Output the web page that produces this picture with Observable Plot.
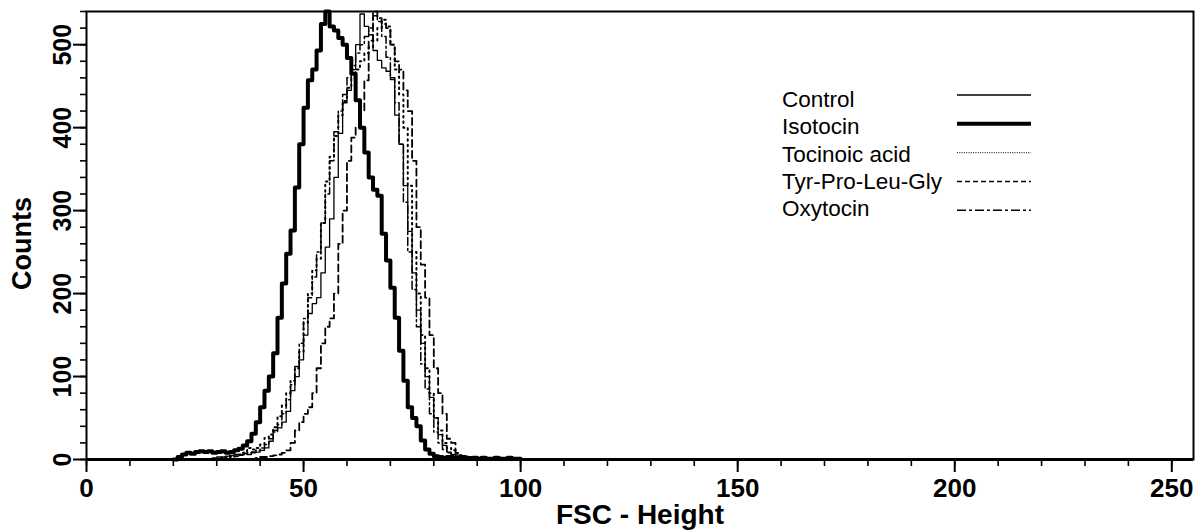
<!DOCTYPE html>
<html><head><meta charset="utf-8">
<script src="https://cdn.jsdelivr.net/npm/d3@7"></script>
<script src="https://cdn.jsdelivr.net/npm/@observablehq/plot@0.6"></script>
<style>
html,body{margin:0;padding:0;background:#fff;}
#chart{position:relative;width:1201px;height:531px;overflow:hidden;}
#chart svg{display:block;}
#legend{position:absolute;left:0;top:0;pointer-events:none;}
</style></head><body><div id="chart"></div>
<script>
// ---- data (counts per FSC channel) ----
const seriesNames = ["Control", "Isotocin", "Tocinoic acid", "Tyr-Pro-Leu-Gly", "Oxytocin"];

const controlStart = 28;
const controlCounts = [0,2,3,3,4,5,6,5,7,6,8,9,11,14,22,35,38,45,58,83,100,120,150,176,188,195,225,256,290,340,393,430,445,470,500,537,522,512,493,481,472,468,458,415,380,330,275,225,180,140,100,75,50,30,17,9,6,4,3,3,2,2,1,2,1,1,1,0];

const isotocinStart = 20;
const isotocinCounts = [0,3,6,8,7,9,10,9,10,8,9,10,8,9,11,13,17,22,31,45,63,83,100,128,171,212,248,276,328,380,424,457,470,493,525,540,522,517,508,500,484,465,433,400,370,340,325,318,272,240,207,171,131,95,63,50,40,23,12,7,4,3,2,3,2,2,3,2,1,2,1,2,1,1,2,1,1,2,1,1,0];

const tocinoicStart = 30;
const tocinoicCounts = [0,2,3,4,4,6,8,14,12,14,18,26,30,39,52,65,80,95,110,130,165,200,228,242,285,335,365,390,415,432,448,460,470,480,490,497,505,520,530,522,500,470,440,400,330,250,200,150,110,80,50,35,20,14,11,7,5,4,3,2,2,1,1,0];

const tyrStart = 38;
const tyrCounts = [0,2,3,3,4,5,6,8,11,20,35,45,55,63,80,110,140,160,170,200,260,300,360,388,400,420,457,505,540,532,525,520,500,480,470,445,420,360,280,235,195,150,110,80,55,25,20,8,4,3,2,2,1,0];

const oxytocinStart = 32;
const oxytocinCounts = [0,3,4,5,6,8,9,11,14,18,25,33,42,55,72,90,112,140,170,195,220,250,285,320,360,395,420,440,460,475,490,500,510,520,535,528,510,485,460,430,380,310,250,205,160,115,85,55,33,20,12,8,5,4,3,2,2,1,1,0];

const xTicks = [0, 50, 100, 150, 200, 250];
const yTicks = [0, 100, 200, 300, 400, 500];
const xLabel = "FSC - Height";
const yLabel = "Counts";

// ---- styles ----
const lineStyles = [
  {strokeWidth: 1.3, strokeDasharray: null},
  {strokeWidth: 4, strokeDasharray: null},
  {strokeWidth: 2, strokeDasharray: "1.5,4"},
  {strokeWidth: 1.8, strokeDasharray: "7,4"},
  {strokeWidth: 1.5, strokeDasharray: "8,3,2,3"}
];
const legendStyles = [
  {strokeWidth: 1.4, strokeDasharray: null, stroke: "#000"},
  {strokeWidth: 4, strokeDasharray: null, stroke: "#000"},
  {strokeWidth: 1.2, strokeDasharray: "1,1.3", stroke: "#333"},
  {strokeWidth: 1.5, strokeDasharray: "5,3", stroke: "#000"},
  {strokeWidth: 1.5, strokeDasharray: "9,3,3,3", stroke: "#000"}
];

const seriesData = [
  [controlStart, controlCounts],
  [isotocinStart, isotocinCounts],
  [tocinoicStart, tocinoicCounts],
  [tyrStart, tyrCounts],
  [oxytocinStart, oxytocinCounts]
];

const table = [];
seriesData.forEach(([start, counts], k) => {
  counts.forEach((c, i) => table.push({series: seriesNames[k], channel: start + i, count: c}));
});

const font = "'Liberation Sans', Arial, Helvetica, sans-serif";

const lineMarks = seriesNames.map((name, k) =>
  Plot.line(table.filter(d => d.series === name), {
    x: "channel", y: "count", curve: "step-after",
    stroke: "#000", strokeWidth: lineStyles[k].strokeWidth,
    strokeDasharray: lineStyles[k].strokeDasharray
  })
);

const plot = Plot.plot({
  width: 1201, height: 531,
  marginLeft: 86, marginRight: 8, marginTop: 11, marginBottom: 72,
  style: {fontFamily: font, background: "#fff", color: "#000"},
  x: {domain: [0, 255]},
  y: {domain: [0, 540]},
  marks: [
    ...lineMarks,
    Plot.frame({stroke: "#000", strokeWidth: 2}),
    Plot.ruleY([0], {stroke: "#000", strokeWidth: 3}),
    Plot.axisX({ticks: d3.range(0, 256, 10), tickSize: 7, text: null, label: null, strokeWidth: 1.6}),
    Plot.axisX({ticks: xTicks, tickSize: 13, tickPadding: 6, fontSize: 26, fontWeight: "bold", label: null, strokeWidth: 2}),
    Plot.axisY({ticks: d3.range(0, 541, 20), tickSize: 6, text: null, label: null, strokeWidth: 1.6}),
    Plot.axisY({ticks: yTicks, tickSize: 13, tickPadding: 3, tickRotate: -90, textAnchor: "middle", lineAnchor: "bottom", fontSize: 25, fontWeight: "bold", label: null, strokeWidth: 2}),
    Plot.text([xLabel], {frameAnchor: "bottom", dy: 56, lineAnchor: "middle", textAnchor: "middle", fontSize: 28, fontWeight: "bold"}),
    Plot.text([yLabel], {frameAnchor: "left", dx: -64, dy: 8, rotate: -90, textAnchor: "middle", lineAnchor: "middle", fontSize: 27, fontWeight: "bold"})
  ]
});
document.getElementById("chart").appendChild(plot);

// ---- legend (overlay) ----
const legend = d3.select("#chart").append("svg").attr("id", "legend")
  .attr("width", 1201).attr("height", 531);
seriesNames.forEach((name, i) => {
  legend.append("text").attr("x", 782).attr("y", 107 + i * 27.3)
    .attr("font-family", font).attr("font-size", 22.5).attr("fill", "#000").text(name);
  legend.append("line").attr("x1", 957).attr("x2", 1031)
    .attr("y1", 95 + i * 28.8).attr("y2", 95 + i * 28.8)
    .attr("stroke", legendStyles[i].stroke).attr("stroke-width", legendStyles[i].strokeWidth)
    .attr("stroke-dasharray", legendStyles[i].strokeDasharray);
});
</script></body></html>
